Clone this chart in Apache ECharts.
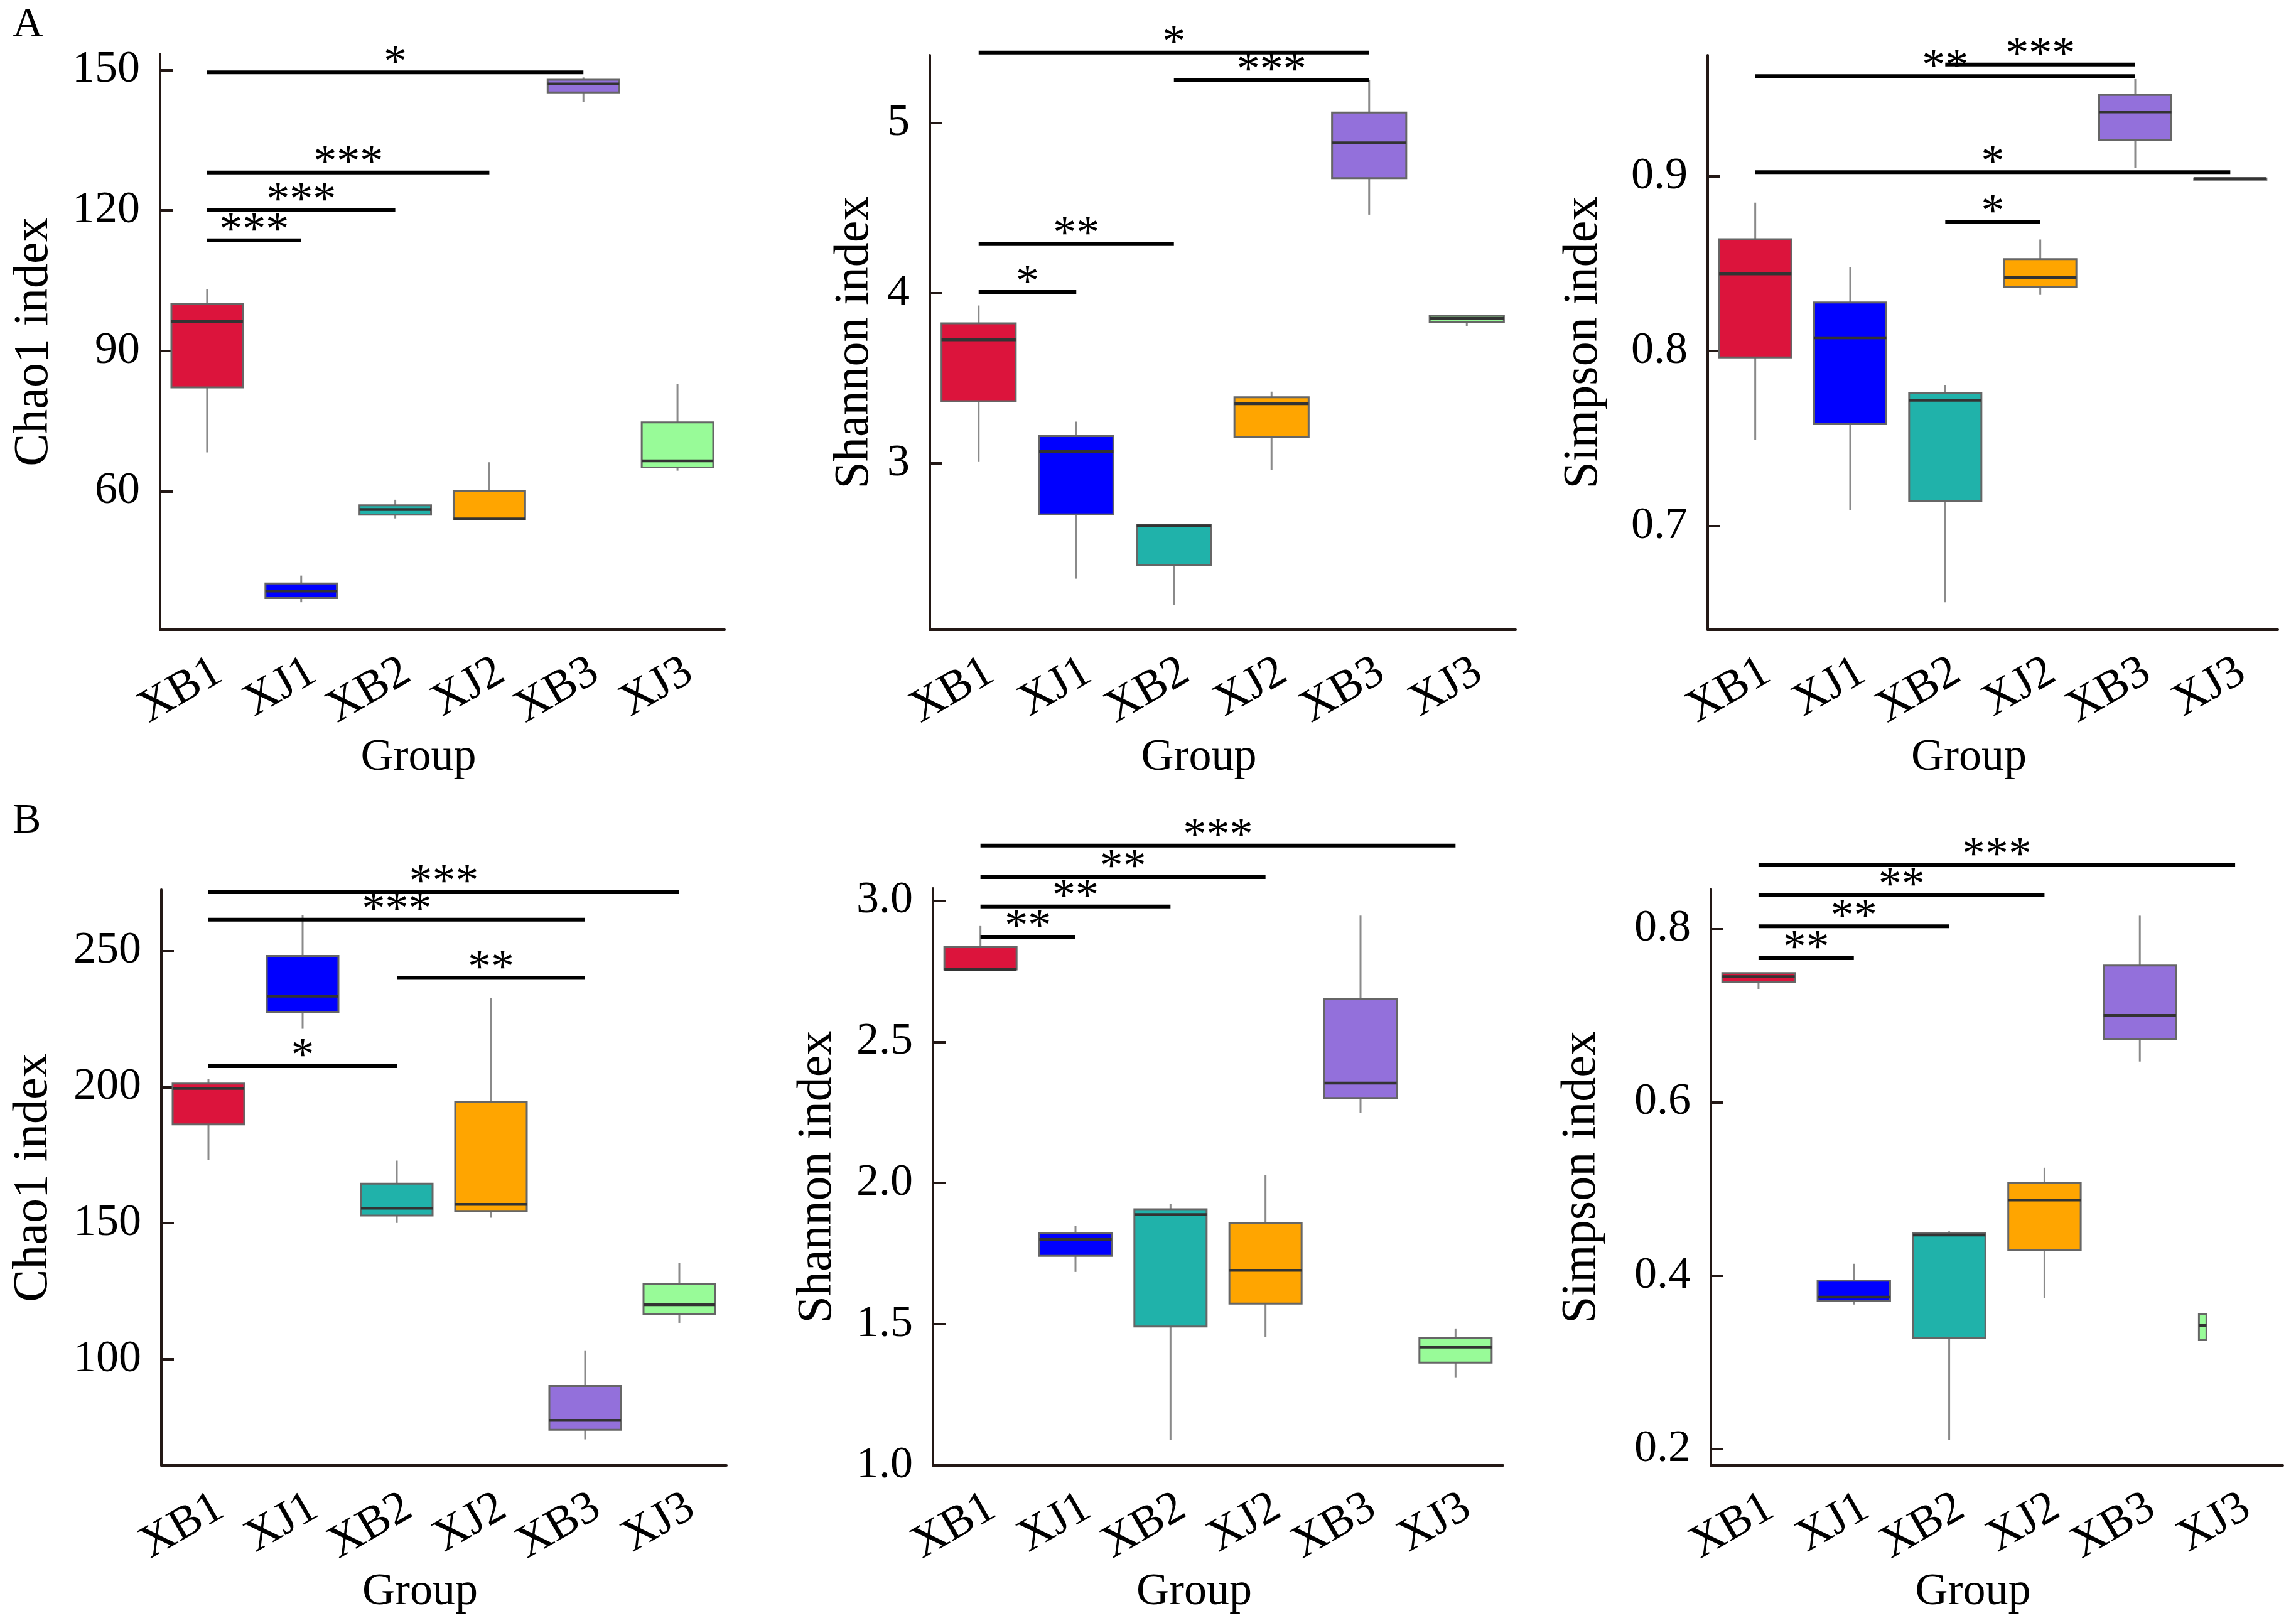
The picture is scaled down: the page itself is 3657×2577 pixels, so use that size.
<!DOCTYPE html>
<html>
<head>
<meta charset="utf-8">
<title>Alpha diversity</title>
<script src="https://cdn.jsdelivr.net/npm/echarts@6.0.0/dist/echarts.min.js"></script>
<style>
html, body { margin: 0; padding: 0; background: #fff; }
#main { width: 3657px; height: 2577px; }
</style>
</head>
<body>
<div id="main"></div>
<script>
var groups = ['XB1', 'XJ1', 'XB2', 'XJ2', 'XB3', 'XJ3'];

// box stats for each group: [min, Q1, median, Q3, max]
var chaoA = [[68.3, 82.2, 96.3, 100.0, 103.2], [36.3, 37.2, 38.7, 40.3, 42.0], [54.2, 55.0, 56.1, 57.0, 58.2],
	[54.1, 54.1, 54.1, 60.0, 66.2], [143.1, 145.2, 147.0, 147.9, 148.4], [64.4, 65.1, 66.5, 74.7, 83.0]];
var shannonA = [[3.009, 3.366, 3.726, 3.823, 3.928], [2.324, 2.701, 3.070, 3.161, 3.246], [2.171, 2.403, 2.634, 2.640, 2.645],
	[2.962, 3.155, 3.351, 3.389, 3.422], [4.461, 4.675, 4.883, 5.061, 5.252], [3.808, 3.829, 3.852, 3.867, 3.873]];
var simpsonA = [[0.7491, 0.7964, 0.8441, 0.8640, 0.8849], [0.7091, 0.7582, 0.8076, 0.8278, 0.8478], [0.6563, 0.7143, 0.7719, 0.7762, 0.7807],
	[0.8321, 0.8369, 0.8421, 0.8526, 0.8638], [0.9049, 0.9208, 0.9368, 0.9465, 0.9556], [0.8985, 0.8985, 0.8986, 0.8987, 0.8987]];
var chaoB = [[173.2, 186.3, 199.5, 201.3, 202.9], [221.4, 227.6, 233.4, 248.2, 263.2], [150.1, 152.8, 155.5, 164.5, 173.0],
	[152.0, 154.5, 156.9, 194.7, 232.7], [70.6, 74.1, 77.6, 90.2, 103.3], [113.4, 116.7, 120.1, 127.8, 135.3]];
var shannonB = [[2.756, 2.756, 2.757, 2.835, 2.910], [1.685, 1.742, 1.800, 1.823, 1.847], [1.090, 1.492, 1.888, 1.907, 1.926],
	[1.456, 1.573, 1.691, 1.858, 2.029], [2.249, 2.301, 2.354, 2.651, 2.947], [1.312, 1.364, 1.419, 1.451, 1.485]];
var simpsonB = [[0.7308, 0.7388, 0.7449, 0.7492, 0.7492], [0.3666, 0.3709, 0.3751, 0.3941, 0.4137], [0.2105, 0.3280, 0.4468, 0.4486, 0.4511],
	[0.3739, 0.4296, 0.4872, 0.5068, 0.5245], [0.6470, 0.6727, 0.7002, 0.7578, 0.8153], [0.3256, 0.3256, 0.3427, 0.3556, 0.3556]];

// significance bars: [from, to, y, stars]
var sigChaoA = [['XB1', 'XB3', 149.5, '*'], ['XB1', 'XJ2', 128.1, '***'], ['XB1', 'XB2', 120.1, '***'], ['XB1', 'XJ1', 113.6, '***']];
var sigShannonA = [['XB1', 'XB3', 5.413, '*'], ['XB2', 'XB3', 5.252, '***'], ['XB1', 'XB2', 4.288, '**'], ['XB1', 'XJ1', 4.007, '*']];
var sigSimpsonA = [['XB2', 'XB3', 0.9639, '***'], ['XB1', 'XB3', 0.9573, '**'], ['XB1', 'XJ3', 0.9023, '*'], ['XB2', 'XJ2', 0.874, '*']];
var sigChaoB = [['XB1', 'XJ3', 271.6, '***'], ['XB1', 'XB3', 261.5, '***'], ['XB2', 'XB3', 240.1, '**'], ['XB1', 'XB2', 207.7, '*']];
var sigShannonB = [['XB1', 'XJ3', 3.195, '***'], ['XB1', 'XJ2', 3.083, '**'], ['XB1', 'XB2', 2.979, '**'], ['XB1', 'XJ1', 2.872, '**']];
var sigSimpsonB = [['XB1', 'XJ3', 0.8735, '***'], ['XB1', 'XJ2', 0.8392, '**'], ['XB1', 'XB2', 0.8031, '**'], ['XB1', 'XJ1', 0.7663, '**']];

// y tick labels and axis ranges
var chaoATicks = [60, 90, 120, 150];
var shannonATicks = [3, 4, 5];
var simpsonATicks = [0.7, 0.8, 0.9];
var chaoBTicks = [100, 150, 200, 250];
var shannonBTicks = [1.0, 1.5, 2.0, 2.5, 3.0];
var simpsonBTicks = [0.2, 0.4, 0.6, 0.8];
var chaoARange = [30.42, 153.41];
var shannonARange = [2.024, 5.397];
var simpsonARange = [0.6406, 0.9692];
var chaoBRange = [61.04, 272.5];
var shannonBRange = [1.0, 3.043];
var simpsonBRange = [0.181, 0.846];

var boxColors = ['#dc143c', '#0000ff', '#20b2aa', '#ffa500', '#9370db', '#98fb98'];
var font = "'Liberation Serif', 'Times New Roman', serif";
var axisColor = '#231815';
var starShift = 24;

var panels = [
	{grid: {left: 255, top: 86, width: 899, height: 917}, range: chaoARange, ticks: chaoATicks, dec: 0,
		name: 'Chao1 index', nameGap: 161, xGap: 168, stats: chaoA, sig: sigChaoA},
	{grid: {left: 1481, top: 88, width: 933, height: 915}, range: shannonARange, ticks: shannonATicks, dec: 0,
		name: 'Shannon index', nameGap: 80, xGap: 168, stats: shannonA, sig: sigShannonA},
	{grid: {left: 2720, top: 88, width: 908, height: 915}, range: simpsonARange, ticks: simpsonATicks, dec: 1,
		name: 'Simpson index', nameGap: 158, xGap: 168, stats: simpsonA, sig: sigSimpsonA},
	{grid: {left: 257, top: 1417, width: 900, height: 917}, range: chaoBRange, ticks: chaoBTicks, dec: 0,
		name: 'Chao1 index', nameGap: 164, xGap: 166, stats: chaoB, sig: sigChaoB},
	{grid: {left: 1486, top: 1415, width: 908, height: 919}, range: shannonBRange, ticks: shannonBTicks, dec: 1,
		name: 'Shannon index', nameGap: 144, xGap: 166, stats: shannonB, sig: sigShannonB},
	{grid: {left: 2725, top: 1416, width: 911, height: 918}, range: simpsonBRange, ticks: simpsonBTicks, dec: 1,
		name: 'Simpson index', nameGap: 166, xGap: 166, stats: simpsonB, sig: sigSimpsonB, cut: 5}
];

function boxRenderer(p) {
	return function (params, api) {
		var i = api.value(0);
		var lo = api.coord([i, api.value(1)]);
		var q1 = api.coord([i, api.value(2)]);
		var md = api.coord([i, api.value(3)]);
		var q3 = api.coord([i, api.value(4)]);
		var hi = api.coord([i, api.value(5)]);
		var half = api.size([1, 0])[0] * 0.38;
		var w = i === p.cut ? 12 : half * 2;
		var left = lo[0] - half;
		var x = left + w / 2;
		return {
			type: 'group',
			children: [
				{type: 'line', shape: {x1: x, y1: hi[1], x2: x, y2: lo[1]},
					style: {stroke: '#8a8a8a', lineWidth: 3}},
				{type: 'rect', shape: {x: left, y: q3[1], width: w, height: Math.max(q1[1] - q3[1], 2)},
					style: {fill: boxColors[i], stroke: '#666', lineWidth: 3}},
				{type: 'line', shape: {x1: left, y1: md[1], x2: left + w, y2: md[1]},
					style: {stroke: '#333', lineWidth: 4.5}}
			]
		};
	};
}

function sigRenderer(p) {
	return function (params, api) {
		var a = api.coord([api.value(0), api.value(2)]);
		var b = api.coord([api.value(1), api.value(2)]);
		return {
			type: 'group',
			children: [
				{type: 'line', shape: {x1: a[0], y1: a[1], x2: b[0], y2: b[1]},
					style: {stroke: '#000', lineWidth: 6}},
				{type: 'text', x: (a[0] + b[0]) / 2, y: a[1] + starShift,
					style: {text: p.sig[params.dataIndex][3], font: '74px ' + font, fill: '#000',
						align: 'center', verticalAlign: 'bottom'}}
			]
		};
	};
}

var grids = [], xAxes = [], yAxes = [], series = [];

panels.forEach(function (p, k) {
	grids.push(p.grid);
	xAxes.push({
		gridIndex: k,
		type: 'category',
		data: groups,
		boundaryGap: true,
		axisLine: {onZero: false, lineStyle: {color: axisColor, width: 4}},
		axisTick: {alignWithLabel: true, inside: true, length: 20, lineStyle: {color: axisColor, width: 4}},
		axisLabel: {interval: 0, rotate: 30, margin: 30, verticalAlign: 'top',
			color: '#000', fontFamily: font, fontSize: 74},
		splitLine: {show: false},
		name: 'Group',
		nameLocation: 'middle',
		nameGap: p.xGap,
		nameTextStyle: {color: '#000', fontFamily: font, fontSize: 72, padding: [0, 76, 0, 0]}
	});
	yAxes.push({
		gridIndex: k,
		type: 'value',
		min: p.range[0],
		max: p.range[1],
		axisLine: {show: true, onZero: false, lineStyle: {color: axisColor, width: 4}},
		axisTick: {show: true, inside: true, length: 20, customValues: p.ticks, lineStyle: {color: axisColor, width: 4}},
		axisLabel: {
			customValues: p.ticks, margin: 32, color: '#000', fontFamily: font, fontSize: 72,
			formatter: function (v) { return (+v).toFixed(p.dec); }
		},
		splitLine: {show: false},
		name: p.name,
		nameLocation: 'middle',
		nameGap: p.nameGap,
		nameTextStyle: {color: '#000', fontFamily: font, fontSize: 78}
	});
	series.push({
		type: 'custom',
		xAxisIndex: k,
		yAxisIndex: k,
		clip: false,
		renderItem: boxRenderer(p),
		encode: {x: 0, y: [1, 2, 3, 4, 5]},
		data: p.stats.map(function (s, i) { return [i].concat(s); })
	});
	series.push({
		type: 'custom',
		xAxisIndex: k,
		yAxisIndex: k,
		clip: false,
		z: 5,
		renderItem: sigRenderer(p),
		encode: {x: [0, 1], y: 2},
		data: p.sig.map(function (s) { return [groups.indexOf(s[0]), groups.indexOf(s[1]), s[2]]; })
	});
});

var myChart = echarts.init(document.getElementById('main'));
myChart.setOption({
	backgroundColor: '#fff',
	animation: false,
	title: [
		{text: 'A', left: 20, top: 6, padding: 0, textStyle: {fontFamily: font, fontSize: 68, fontWeight: 'normal', color: '#000'}},
		{text: 'B', left: 20, top: 1274, padding: 0, textStyle: {fontFamily: font, fontSize: 68, fontWeight: 'normal', color: '#000'}}
	],
	grid: grids,
	xAxis: xAxes,
	yAxis: yAxes,
	series: series
});
</script>
</body>
</html>
